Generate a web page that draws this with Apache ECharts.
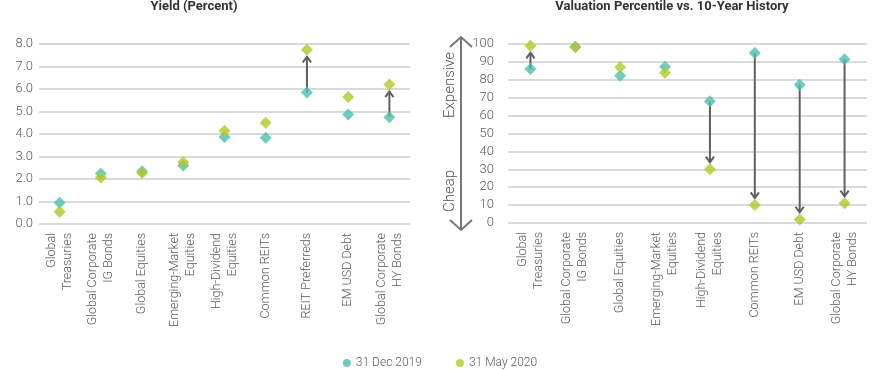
<!DOCTYPE html>
<html><head><meta charset="utf-8">
<script src="https://cdn.jsdelivr.net/npm/echarts@6/dist/echarts.min.js"></script>
<style>html,body{margin:0;padding:0;background:#fff}#c{width:880px;height:370px}</style>
</head><body><div id="c"></div>
<script>
// ---- data ----
const yieldCategories = ["Global\nTreasuries","Global Corporate\nIG Bonds","Global Equities","Emerging-Market\nEquities","High-Dividend\nEquities","Common REITs","REIT Preferreds","EM USD Debt","Global Corporate\nHY Bonds"];
const yieldDec2019 = [0.95, 2.25, 2.35, 2.6, 3.87, 3.83, 5.85, 4.87, 4.75];
const yieldMay2020 = [0.55, 2.06, 2.27, 2.75, 4.15, 4.5, 7.75, 5.65, 6.2];
const yieldArrowIdx = [6, 8];
const yieldTicks = ["0.0","1.0","2.0","3.0","4.0","5.0","6.0","7.0","8.0"];

const valCategories = ["Global\nTreasuries","Global Corporate\nIG Bonds","Global Equities","Emerging-Market\nEquities","High-Dividend\nEquities","Common REITs","EM USD Debt","Global Corporate\nHY Bonds"];
const valDec2019 = [86, 98.5, 82.2, 87.3, 68, 95, 77.3, 91.5];
const valMay2020 = [99, 98.2, 87, 84, 30, 10, 2, 11];
const valArrowIdx = [0, 4, 5, 6, 7];

const seriesNames = ["31 Dec 2019", "31 May 2020"];
const titles = ["Yield (Percent)", "Valuation Percentile vs. 10-Year History"];
const sideLabels = ["Expensive", "Cheap"];

// ---- styles ----
const TEAL = '#4cc0ad', GREEN = '#b3c726', ARROW = '#5f5f5f';
const FONT = 'Roboto';
const labelColor = '#5a5a5a';

function arrowRender(params, api) {
  const p1 = api.coord([api.value(0), api.value(1)]);
  const p2 = api.coord([api.value(0), api.value(2)]);
  const dir = p2[1] > p1[1] ? 1 : -1;
  const tip = [p2[0], p2[1] - dir * 7];
  const arm = 7, dx = arm * Math.sin(Math.PI / 5), dy = arm * Math.cos(Math.PI / 5);
  return {
    type: 'group',
    children: [
      {type: 'line', shape: {x1: p1[0], y1: p1[1], x2: tip[0], y2: tip[1]}, style: {stroke: ARROW, lineWidth: 2}},
      {type: 'polyline', shape: {points: [[tip[0] - dx, tip[1] - dir * dy], tip, [tip[0] + dx, tip[1] - dir * dy]]}, style: {stroke: ARROW, lineWidth: 2, fill: null}}
    ]
  };
}

const chart = echarts.init(document.getElementById('c'), null, {renderer: 'canvas'});
const axisLabelX = {interval: 0, rotate: 90, margin: 9, color: labelColor, fontFamily: FONT, fontSize: 12.5, fontWeight: 300, lineHeight: 16};
const splitLine = {show: true, lineStyle: {color: '#dadada', width: 2}};

const option = {
  animation: false,
  textStyle: {fontFamily: FONT},
  legend: {
    data: seriesNames, top: 352, left: 'center', icon: 'circle', itemWidth: 8, itemHeight: 8, itemGap: 34,
    textStyle: {color: labelColor, fontSize: 12, fontFamily: FONT, fontWeight: 300}
  },
  grid: [
    {left: 39, right: 470, top: 44, bottom: 146},
    {left: 508, right: 13, top: 44, bottom: 147}
  ],
  xAxis: [
    {type: 'category', gridIndex: 0, data: yieldCategories, axisLine: {show: false}, axisTick: {show: false}, axisLabel: axisLabelX},
    {type: 'category', gridIndex: 1, data: valCategories, axisLine: {show: false}, axisTick: {show: false}, axisLabel: axisLabelX}
  ],
  yAxis: [
    {type: 'value', gridIndex: 0, min: 0, max: 8, interval: 1, splitLine: splitLine,
      axisLabel: {color: labelColor, fontSize: 13, fontFamily: FONT, fontWeight: 300, margin: 6, formatter: (v) => yieldTicks[Math.round(v)]}},
    {type: 'value', gridIndex: 1, min: 0, max: 100, interval: 10, splitLine: splitLine,
      axisLabel: {color: labelColor, fontSize: 13, fontFamily: FONT, fontWeight: 300, margin: 14}}
  ],
  graphic: [
    {type: 'text', x: 194, y: 7, style: {text: titles[0], font: 'bold 13px ' + FONT, fill: '#333', textAlign: 'center', textVerticalAlign: 'middle'}},
    {type: 'text', x: 672, y: 7, style: {text: titles[1], font: 'bold 13px ' + FONT, fill: '#333', textAlign: 'center', textVerticalAlign: 'middle'}},
    // expensive / cheap double arrow
    {type: 'line', shape: {x1: 461, y1: 38, x2: 461, y2: 229}, style: {stroke: '#777', lineWidth: 2}},
    {type: 'polyline', shape: {points: [[450, 47], [461, 37], [472, 47]]}, style: {stroke: '#777', lineWidth: 2, fill: null}},
    {type: 'polyline', shape: {points: [[450, 220], [461, 230], [472, 220]]}, style: {stroke: '#777', lineWidth: 2, fill: null}},
    {type: 'text', x: 450, y: 85, rotation: Math.PI / 2, style: {text: sideLabels[0], font: '300 15px ' + FONT, fill: '#555', textAlign: 'center', textVerticalAlign: 'middle'}},
    {type: 'text', x: 450, y: 191, rotation: Math.PI / 2, style: {text: sideLabels[1], font: '300 15px ' + FONT, fill: '#555', textAlign: 'center', textVerticalAlign: 'middle'}}
  ],
  series: [
    {type: 'custom', xAxisIndex: 0, yAxisIndex: 0, z: 1, renderItem: arrowRender,
      data: yieldArrowIdx.map(i => [i, yieldDec2019[i], yieldMay2020[i]])},
    {type: 'custom', xAxisIndex: 1, yAxisIndex: 1, z: 1, renderItem: arrowRender,
      data: valArrowIdx.map(i => [i, valDec2019[i], valMay2020[i]])},
    {name: seriesNames[0], type: 'scatter', xAxisIndex: 0, yAxisIndex: 0, z: 3, symbol: 'diamond', symbolSize: 12, itemStyle: {color: TEAL}, data: yieldDec2019},
    {name: seriesNames[1], type: 'scatter', xAxisIndex: 0, yAxisIndex: 0, z: 4, symbol: 'diamond', symbolSize: 12, itemStyle: {color: GREEN}, data: yieldMay2020},
    {name: seriesNames[0], type: 'scatter', xAxisIndex: 1, yAxisIndex: 1, z: 3, symbol: 'diamond', symbolSize: 12, itemStyle: {color: TEAL}, data: valDec2019},
    {name: seriesNames[1], type: 'scatter', xAxisIndex: 1, yAxisIndex: 1, z: 4, symbol: 'diamond', symbolSize: 12, itemStyle: {color: GREEN}, data: valMay2020}
  ]
};
chart.setOption(option);
</script></body></html>
